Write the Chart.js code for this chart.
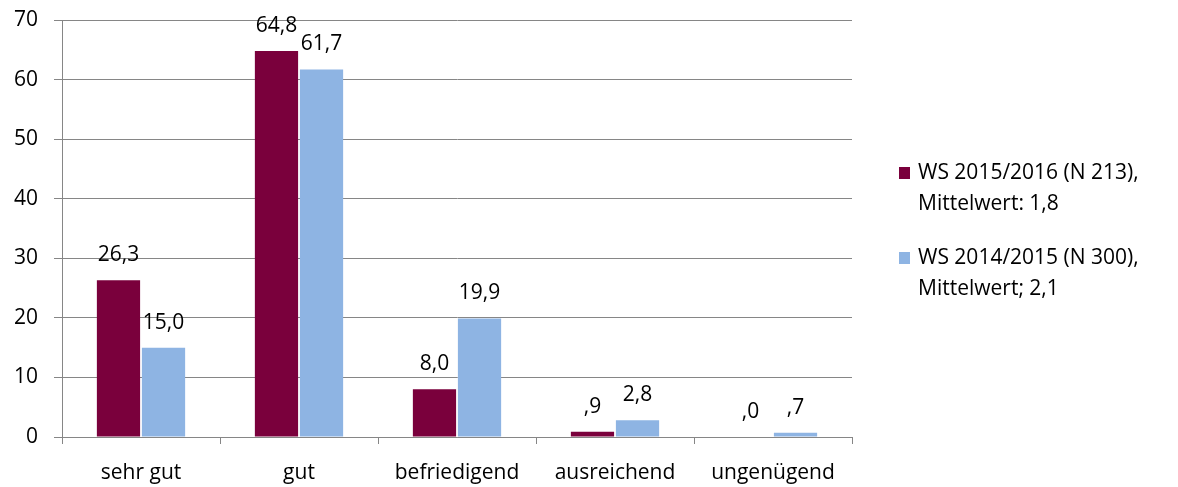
<!DOCTYPE html>
<html>
<head>
<meta charset="utf-8">
<script src="https://cdn.jsdelivr.net/npm/chart.js@4/dist/chart.umd.min.js"></script>
<style>
  html, body { margin: 0; padding: 0; background: #fff; }
  #box { position: relative; width: 1178px; height: 487px; }
</style>
</head>
<body>
<div id="box"><canvas id="myChart" width="1178" height="487"></canvas></div>
<script>
const categories = ['sehr gut', 'gut', 'befriedigend', 'ausreichend', 'ungenügend'];
const ws2015 = [26.3, 64.8, 8.0, 0.9, 0.0];
const ws2014 = [15.0, 61.7, 19.9, 2.8, 0.7];
const label2015 = ['WS 2015/2016 (N 213),', 'Mittelwert: 1,8'];
const label2014 = ['WS 2014/2015 (N 300),', 'Mittelwert; 2,1'];
const yTicks = [0, 10, 20, 30, 40, 50, 60, 70];

const FONT = '"Open Sans", sans-serif';
const FS = 21;
const GRID = '#868686';

// SPSS style: 0,9 -> ,9
const fmt = v => v.toFixed(1).replace('.', ',').replace(/^0,/, ',');

const valueLabels = {
  id: 'valueLabels',
  afterDatasetsDraw(chart) {
    const ctx = chart.ctx;
    ctx.save();
    ctx.font = FS + 'px ' + FONT;
    ctx.fillStyle = '#000';
    ctx.textAlign = 'center';
    ctx.textBaseline = 'alphabetic';
    chart.data.datasets.forEach((ds, i) => {
      chart.getDatasetMeta(i).data.forEach((bar, j) => {
        ctx.fillText(fmt(ds.data[j]), bar.x, bar.y - 19);
      });
    });
    ctx.restore();
  }
};

// legend on the right with two-line labels
const sideLegend = {
  id: 'sideLegend',
  afterDraw(chart) {
    const ctx = chart.ctx;
    ctx.save();
    ctx.font = FS + 'px ' + FONT;
    ctx.textBaseline = 'middle';
    ctx.textAlign = 'left';
    const tops = [173, 258];
    chart.data.datasets.forEach((ds, i) => {
      const y = tops[i];
      ctx.fillStyle = ds.backgroundColor;
      ctx.fillRect(899, y - 6, 11, 12);
      ctx.fillStyle = '#000';
      ds.label.forEach((line, k) => {
        ctx.fillText(line, 918, y + k * 31);
      });
    });
    ctx.restore();
  }
};

new Chart(document.getElementById('myChart'), {
  type: 'bar',
  data: {
    labels: categories,
    datasets: [
      { label: label2015, data: ws2015, backgroundColor: '#7A003C' },
      { label: label2014, data: ws2014, backgroundColor: '#8EB4E3' }
    ]
  },
  plugins: [valueLabels, sideLegend],
  options: {
    responsive: false,
    animation: false,
    layout: { padding: { top: 20, right: 326, bottom: 0, left: 0 } },
    categoryPercentage: 0.57,
    barPercentage: 0.96,
    plugins: { legend: { display: false }, tooltip: { enabled: false } },
    scales: {
      x: {
        afterFit: s => { s.height = 50; s.paddingLeft = 0; s.paddingRight = 0; },
        grid: { drawOnChartArea: false, color: GRID, tickLength: 7, offset: true },
        border: { color: GRID },
        ticks: { color: '#000', font: { family: FONT, size: FS }, padding: 16, maxRotation: 0 }
      },
      y: {
        min: 0,
        max: 70,
        afterFit: s => { s.width = 62; s.paddingTop = 0; s.paddingBottom = 0; },
        afterBuildTicks: s => { s.ticks = yTicks.map(v => ({ value: v })); },
        grid: { color: GRID, tickLength: 8 },
        border: { color: GRID },
        ticks: { color: '#000', font: { family: FONT, size: FS }, padding: 16 }
      }
    }
  }
});
</script>
</body>
</html>
